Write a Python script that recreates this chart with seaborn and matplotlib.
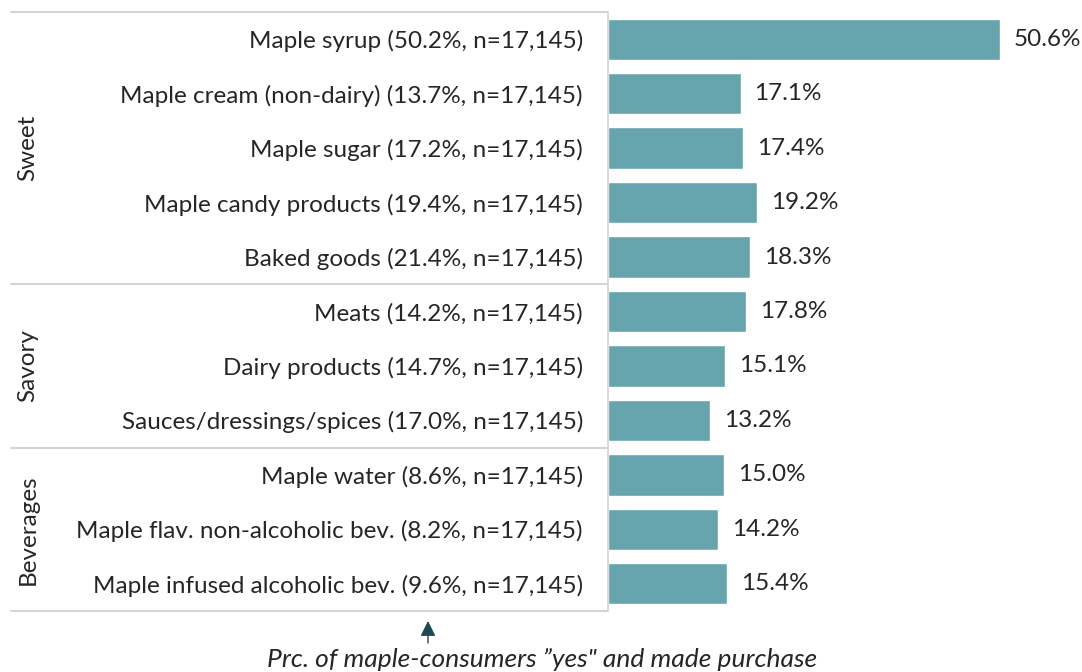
import matplotlib
matplotlib.use("Agg")
import matplotlib.pyplot as plt
import matplotlib.transforms as mtransforms
import seaborn as sns
import pandas as pd

# Products and share of maple consumers who said "yes" and made a purchase
products = [
    "Maple syrup (50.2%, n=17,145)",
    "Maple cream (non-dairy) (13.7%, n=17,145)",
    "Maple sugar (17.2%, n=17,145)",
    "Maple candy products (19.4%, n=17,145)",
    "Baked goods (21.4%, n=17,145)",
    "Meats (14.2%, n=17,145)",
    "Dairy products (14.7%, n=17,145)",
    "Sauces/dressings/spices (17.0%, n=17,145)",
    "Maple water (8.6%, n=17,145)",
    "Maple flav. non-alcoholic bev. (8.2%, n=17,145)",
    "Maple infused alcoholic bev. (9.6%, n=17,145)",
]
purchase_pct = [50.6, 17.1, 17.4, 19.2, 18.3, 17.8, 15.1, 13.2, 15.0, 14.2, 15.4]

groups = ["Sweet", "Savory", "Beverages"]
group_sizes = [5, 3, 3]

xlabel = 'Prc. of maple-consumers \u201dyes" and made purchase'

df = pd.DataFrame({"product": products, "pct": purchase_pct})

sns.set_theme(style="white")
plt.rcParams["font.family"] = ["Lato", "DejaVu Sans"]

W, H = 1082, 672
fig = plt.figure(figsize=(W / 100, H / 100), dpi=100)
ax = fig.add_axes([608 / W, (H - 611) / H, (W - 608) / W, 599 / H])

bar_color = "#66a5ae"
text_color = "#262626"
line_color = "#d4d4d4"
fs = 17.5

sns.barplot(data=df, x="pct", y="product", orient="h", color=bar_color,
            saturation=1, width=0.76, ax=ax)

ax.set_xlim(0, (W - 608) / 7.75)
ax.set_ylim(len(products) - 0.5, -0.5)
ax.set_xlabel("")
ax.set_ylabel("")
ax.set_xticks([])
ax.tick_params(axis="y", length=0, pad=18, labelsize=fs, labelcolor=text_color)

for side in ["top", "right", "bottom"]:
    ax.spines[side].set_visible(False)
ax.spines["left"].set_color(line_color)
ax.spines["left"].set_linewidth(1.2)

ax.bar_label(ax.containers[0], labels=[f"{v:.1f}%" for v in purchase_pct],
             padding=10, fontsize=fs, color=text_color)

# Group separators and group names on the left
trans = mtransforms.blended_transform_factory(fig.transFigure, ax.transData)
x0, x1 = 11 / W, 607 / W
start = 0
boundaries = [-0.5]
for name, size in zip(groups, group_sizes):
    center = start + (size - 1) / 2
    fig.text(28 / W, center, name, transform=trans, rotation=90,
             ha="center", va="center", fontsize=fs, color=text_color)
    start += size
    boundaries.append(start - 0.5)
for b in boundaries:
    fig.add_artist(plt.Line2D([x0, x1], [b, b], transform=trans,
                              color=line_color, lw=1.5))

# Axis caption with arrow
fig.add_artist(matplotlib.patches.FancyArrowPatch(
    (428 / W, 1 - 643 / H), (428 / W, 1 - 621 / H), transform=fig.transFigure,
    arrowstyle="-|>,head_length=7,head_width=3.5", mutation_scale=1.3,
    shrinkA=0, shrinkB=0, color="#1c4a52", lw=1))
fig.text(542 / W, 1 - 659 / H, xlabel, ha="center", va="center",
         fontsize=19, style="italic", color=text_color)

fig.savefig("out.png", dpi=100, facecolor="white")
